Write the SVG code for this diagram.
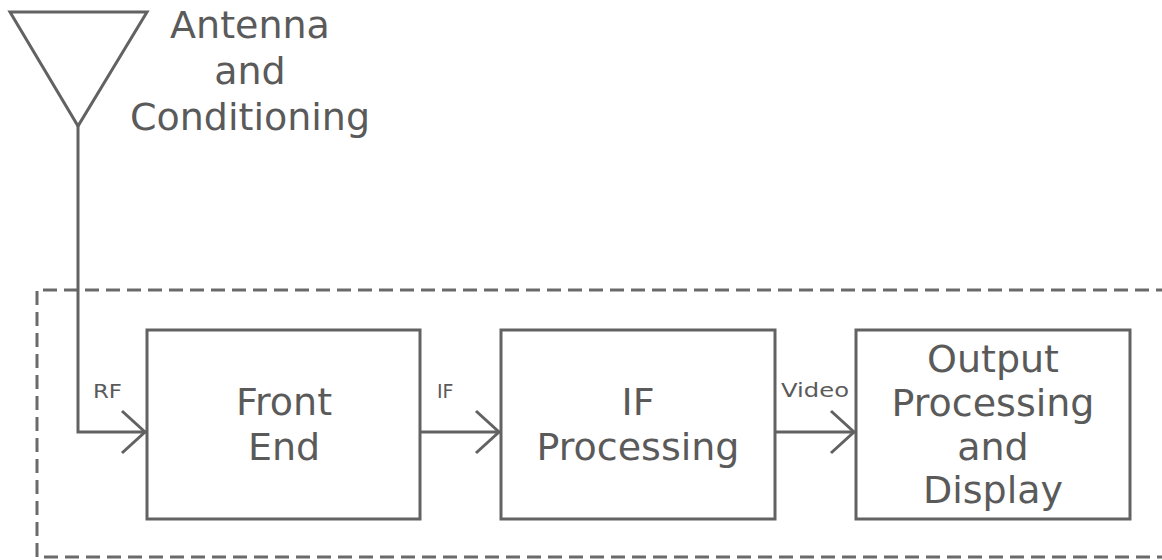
<svg xmlns="http://www.w3.org/2000/svg" width="1162" height="560" viewBox="0 0 1162 560">
<style>
.ln{fill:none;stroke:#626262;stroke-width:3}
.dash{fill:none;stroke:#6a6a6a;stroke-width:3;stroke-dasharray:14 7}
.big{font-family:"DejaVu Sans",sans-serif;font-size:38px;fill:#5a5a5a;text-anchor:middle}
.sm{font-family:"DejaVu Sans",sans-serif;font-size:19px;fill:#5a5a5a}
</style>
<defs>
<marker id="chev" viewBox="0 0 30 50" refX="28" refY="25" markerWidth="30" markerHeight="50" markerUnits="userSpaceOnUse" orient="auto">
<path d="M4 4 L27 25 L4 46" fill="none" stroke="#626262" stroke-width="3"/>
</marker>
</defs>
<rect width="1162" height="560" fill="#ffffff"/>
<g id="boundary">
<path class="dash" d="M1170 290 H37 V557 H1170"/>
</g>
<g id="antenna">
<path class="ln" d="M10 12 H147 L78 126 Z"/>
<text class="big" x="250" y="38">Antenna</text>
<text class="big" x="250" y="84">and</text>
<text class="big" x="250" y="130">Conditioning</text>
</g>
<g id="front-end">
<rect class="ln" x="147" y="330" width="273" height="189"/>
<text class="big" x="284" y="415">Front</text>
<text class="big" x="284" y="460">End</text>
</g>
<g id="if-processing">
<rect class="ln" x="501" y="330" width="274" height="189"/>
<text class="big" x="638" y="415">IF</text>
<text class="big" x="638" y="460">Processing</text>
</g>
<g id="output">
<rect class="ln" x="856" y="330" width="274" height="189"/>
<text class="big" x="993" y="372">Output</text>
<text class="big" x="993" y="416">Processing</text>
<text class="big" x="993" y="460">and</text>
<text class="big" x="993" y="503">Display</text>
</g>
<g id="connectors">
<path class="ln" d="M78 126 V432 H146" marker-end="url(#chev)"/>
<path class="ln" d="M420 432 H500" marker-end="url(#chev)"/>
<path class="ln" d="M775 432 H855" marker-end="url(#chev)"/>
<text class="sm" x="93" y="398" textLength="29" lengthAdjust="spacingAndGlyphs">RF</text>
<text class="sm" x="437" y="398">IF</text>
<text class="sm" x="781" y="397" textLength="68" lengthAdjust="spacingAndGlyphs">Video</text>
</g>
</svg>
